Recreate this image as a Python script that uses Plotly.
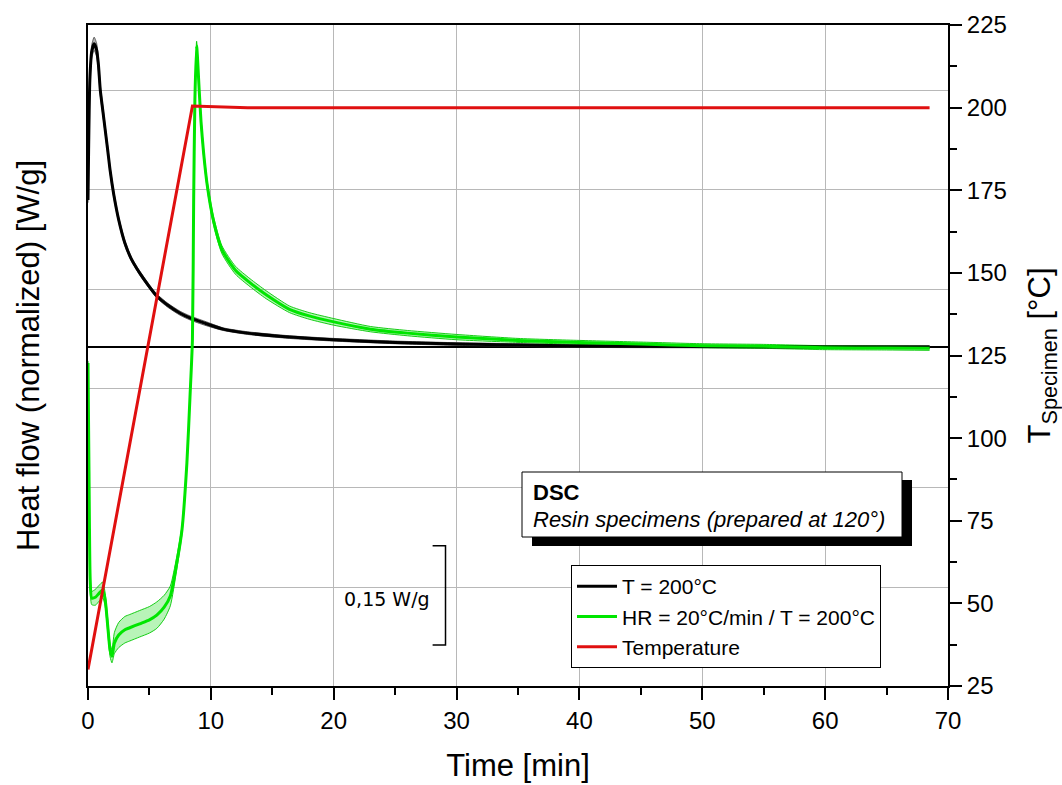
import plotly.graph_objects as go

# ---------------- data ----------------
# Isothermal T = 200°C (heat flow, W/g, baseline = 0)
t_iso = [0.0, 0.05, 0.15, 0.3, 0.5, 0.7, 0.85, 1.0, 1.2, 1.4, 1.6, 1.8, 2.1, 2.5, 3.0, 3.5,
         4.2, 5.0, 5.6, 6.5, 7.5, 8.3, 9.5, 11, 13, 16.4, 20, 25, 30, 35, 40, 50, 60, 68.5]
hf_iso = [0.222, 0.298, 0.403, 0.446, 0.458, 0.449, 0.426, 0.388, 0.358, 0.328, 0.298, 0.267,
          0.230, 0.192, 0.157, 0.134, 0.112, 0.091, 0.077, 0.063, 0.051, 0.044, 0.036, 0.027,
          0.021, 0.015, 0.011, 0.007, 0.0045, 0.003, 0.0015, 0.0008, 0.0, 0.0]
sd_iso = [0.004, 0.006, 0.009, 0.010, 0.010, 0.010, 0.009, 0.008, 0.007, 0.006, 0.006, 0.005,
          0.005, 0.004, 0.004, 0.003, 0.003, 0.003, 0.003, 0.003, 0.003, 0.003, 0.003, 0.002,
          0.002, 0.002, 0.002, 0.002, 0.002, 0.002, 0.002, 0.002, 0.002, 0.002]

# Heating 20°C/min then isothermal 200°C
t_hr = [0.0, 0.08, 0.18, 0.3, 0.6, 0.9, 1.2, 1.4, 1.6, 1.8, 1.95, 2.15, 2.5, 3.0, 3.4, 4.2,
        5.0, 5.6, 6.2, 6.7, 7.2, 7.65, 8.05, 8.3, 8.5, 8.6, 8.7, 8.84, 9.05, 9.2, 9.4, 9.7,
        10.2, 10.9, 12, 13.2, 14.5, 16.4, 18, 20, 23, 26, 30, 35, 40, 45, 50, 55, 60, 65, 68.5]
hf_hr = [-0.024, -0.186, -0.352, -0.379, -0.378, -0.372, -0.367, -0.382, -0.420, -0.458,
         -0.467, -0.447, -0.435, -0.427, -0.424, -0.418, -0.412, -0.405, -0.393, -0.376,
         -0.329, -0.276, -0.175, -0.076, 0.011, 0.222, 0.373, 0.455, 0.388, 0.340, 0.295,
         0.245, 0.192, 0.147, 0.116, 0.097, 0.079, 0.057, 0.047, 0.038, 0.027, 0.021, 0.015,
         0.010, 0.007, 0.0045, 0.002, 0.001, -0.001, -0.0015, -0.002]
sd_hr = [0.003, 0.003, 0.004, 0.010, 0.012, 0.012, 0.012, 0.010, 0.010, 0.010, 0.010, 0.016,
         0.019, 0.020, 0.020, 0.020, 0.020, 0.020, 0.018, 0.015, 0.010, 0.006, 0.005, 0.005,
         0.005, 0.006, 0.006, 0.007, 0.006, 0.006, 0.006, 0.006, 0.006, 0.006, 0.006, 0.006,
         0.006, 0.005, 0.005, 0.005, 0.004, 0.004, 0.004, 0.003, 0.003, 0.003, 0.003, 0.003,
         0.003, 0.003, 0.003]

# Temperature program (°C)
t_temp = [0.0, 8.5, 13.0, 68.5]
temp = [30, 200.5, 200, 200]

# scale bar
scale_x = 29.1
scale_y = [-0.30, -0.45]
scale_label = "0,15 W/g"

x_ticks = [0, 10, 20, 30, 40, 50, 60, 70]
t_ticks = [25, 50, 75, 100, 125, 150, 175, 200, 225]

FONT = "Liberation Sans, Arial, sans-serif"
GREEN = "#00e600"
RED = "#e01010"
SMOOTH = 0.6

fig = go.Figure()


def band(t, m, s, fillcolor, linecolor):
    up = [a + b for a, b in zip(m, s)]
    lo = [a - b for a, b in zip(m, s)]
    fig.add_trace(go.Scatter(x=t, y=up, mode="lines",
                             line=dict(color=linecolor, width=1, shape="spline", smoothing=SMOOTH),
                             showlegend=False, hoverinfo="skip"))
    fig.add_trace(go.Scatter(x=t, y=lo, mode="lines",
                             line=dict(color=linecolor, width=1, shape="spline", smoothing=SMOOTH),
                             fill="tonexty", fillcolor=fillcolor, showlegend=False,
                             hoverinfo="skip"))


band(t_iso, hf_iso, sd_iso, "rgba(90,90,90,0.45)", "rgba(60,60,60,0.8)")
band(t_hr, hf_hr, sd_hr, "rgba(0,215,0,0.28)", "rgba(0,200,0,0.9)")

fig.add_trace(go.Scatter(x=t_iso, y=hf_iso, mode="lines", name="T = 200°C",
                         line=dict(color="black", width=3, shape="spline", smoothing=SMOOTH)))
fig.add_trace(go.Scatter(x=t_hr, y=hf_hr, mode="lines", name="HR = 20°C/min / T = 200°C",
                         line=dict(color=GREEN, width=3, shape="spline", smoothing=SMOOTH)))
fig.add_trace(go.Scatter(x=t_temp, y=temp, mode="lines", name="Temperature", yaxis="y2",
                         line=dict(color=RED, width=3)))

# scale bar
fig.add_trace(go.Scatter(x=[scale_x - 1.05, scale_x, scale_x, scale_x - 1.05],
                         y=[scale_y[0], scale_y[0], scale_y[1], scale_y[1]],
                         mode="lines", line=dict(color="black", width=1.5),
                         showlegend=False, hoverinfo="skip"))
fig.add_annotation(x=scale_x - 1.1, y=sum(scale_y) / 2 - 0.005, xref="x", yref="y",
                   text=scale_label, showarrow=False, xanchor="right", yanchor="middle",
                   font=dict(family="DejaVu Sans", size=19, color="black"))


def px(xp):
    return (xp - 88) / 860


def py(yp):
    return (686 - yp) / 661


# info box with drop shadow
fig.add_shape(type="rect", xref="paper", yref="paper", x0=px(532), x1=px(912), y0=py(546),
              y1=py(480), fillcolor="black", line=dict(width=0), layer="above")
fig.add_shape(type="rect", xref="paper", yref="paper", x0=px(522), x1=px(902), y0=py(537),
              y1=py(472), fillcolor="white", line=dict(color="black", width=1), layer="above")
fig.add_annotation(x=px(531), y=py(492), xref="paper", yref="paper", text="<b>DSC</b>",
                   showarrow=False, xanchor="left", yanchor="middle",
                   font=dict(family=FONT, size=22, color="black"))
fig.add_annotation(x=px(531), y=py(519), xref="paper", yref="paper",
                   text="<i>Resin specimens (prepared at 120°)</i>",
                   showarrow=False, xanchor="left", yanchor="middle",
                   font=dict(family=FONT, size=22, color="black"))

fig.update_layout(
    width=1062, height=785,
    margin=dict(l=88, r=114, t=25, b=99, autoexpand=False),
    paper_bgcolor="white", plot_bgcolor="white",
    font=dict(family=FONT, color="black"),
    showlegend=True,
    legend=dict(x=px(571), y=py(565), xanchor="left", yanchor="top",
                bgcolor="white", bordercolor="black", borderwidth=1,
                font=dict(family=FONT, size=21, color="black"),
                traceorder="normal", tracegroupgap=0, itemwidth=40),
    xaxis=dict(range=[0, 70], tickvals=x_ticks, ticks="outside", ticklen=12, tickwidth=2,
               tickcolor="black", showline=True, linecolor="black", linewidth=2, mirror=True,
               showgrid=True, gridcolor="#b8b8b8", gridwidth=1, zeroline=False,
               automargin=False,
               minor=dict(dtick=5, ticks="outside", ticklen=7, tickwidth=2, tickcolor="black",
                          showgrid=False),
               tickfont=dict(family=FONT, size=24),
               title=dict(text="Time [min]", font=dict(family=FONT, size=31), standoff=22)),
    yaxis=dict(range=[-0.512, 0.4864], tick0=-0.3625, dtick=0.15, showticklabels=False,
               ticks="", showline=True, linecolor="black", linewidth=2,
               showgrid=True, gridcolor="#b8b8b8", gridwidth=1, automargin=False,
               zeroline=True, zerolinecolor="black", zerolinewidth=1.5,
               title=dict(text="Heat flow (normalized) [W/g]", font=dict(family=FONT, size=31),
                          standoff=37)),
    yaxis2=dict(range=[25, 225], tickvals=t_ticks, overlaying="y", side="right",
                ticks="outside", ticklen=12, tickwidth=2, tickcolor="black",
                showline=True, linecolor="black", linewidth=2, showgrid=False, zeroline=False,
                automargin=False,
                minor=dict(dtick=12.5, ticks="outside", ticklen=7, tickwidth=2,
                           tickcolor="black", showgrid=False),
                tickfont=dict(family=FONT, size=24),
                title=dict(text="T<sub>Specimen</sub> [°C]", font=dict(family=FONT, size=31),
                           standoff=25)),
)

fig.write_html("out.html")
